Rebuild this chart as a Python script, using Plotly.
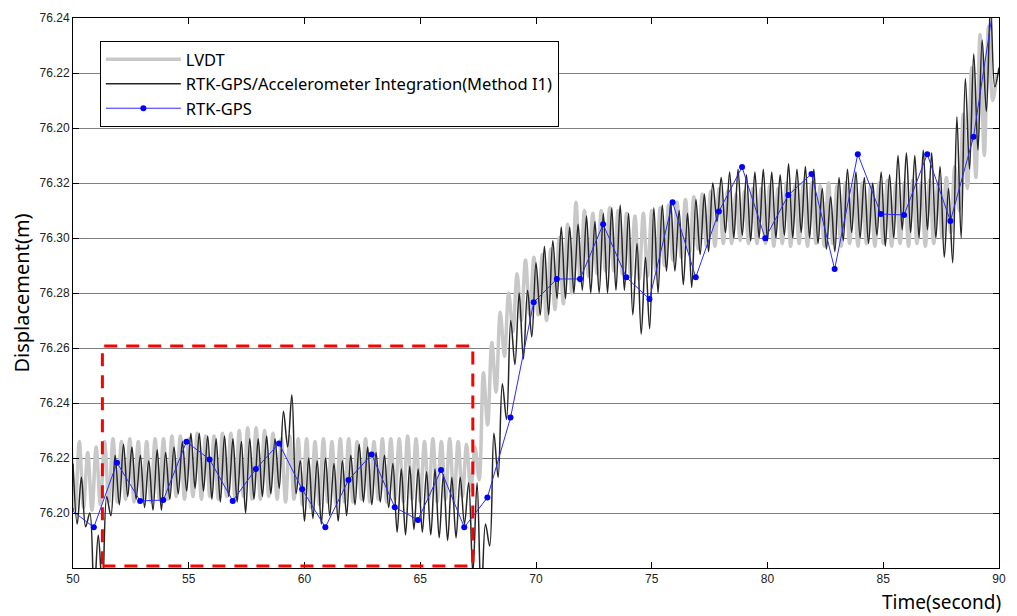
import plotly.graph_objects as go

# sampling step of the dense records (s)
STEP = 2 / 11
method_t0 = 50.0
lvdt_t0 = 49.91

# RTK-GPS/Accelerometer Integration (Method I1): alternating peaks/troughs, one row per 2 s
method_i1 = [
    76.218, 76.196, 76.213, 76.195, 76.200, 76.170, 76.192, 76.172, 76.206, 76.199, 76.221,
    76.203, 76.225, 76.206, 76.224, 76.205, 76.221, 76.202, 76.219, 76.201, 76.223, 76.201,
    76.222, 76.205, 76.224, 76.207, 76.226, 76.208, 76.229, 76.209, 76.229, 76.208, 76.228,
    76.205, 76.227, 76.204, 76.228, 76.206, 76.227, 76.204, 76.226, 76.200, 76.227, 76.205,
    76.227, 76.206, 76.228, 76.207, 76.227, 76.209, 76.237, 76.224, 76.243, 76.207, 76.219,
    76.197, 76.220, 76.198, 76.219, 76.196, 76.220, 76.199, 76.218, 76.197, 76.219, 76.199,
    76.221, 76.203, 76.225, 76.204, 76.224, 76.203, 76.222, 76.204, 76.221, 76.202, 76.218,
    76.193, 76.216, 76.192, 76.217, 76.194, 76.216, 76.193, 76.215, 76.192, 76.216, 76.191,
    76.214, 76.190, 76.213, 76.191, 76.213, 76.196, 76.211, 76.178, 76.211, 76.168, 76.196,
    76.188, 76.229, 76.213, 76.247, 76.234, 76.270, 76.254, 76.280, 76.256, 76.281, 76.264,
    76.291, 76.272, 76.297, 76.272, 76.299, 76.278, 76.304, 76.278, 76.304, 76.280, 76.305,
    76.281, 76.308, 76.280, 76.306, 76.280, 76.309, 76.280, 76.311, 76.281, 76.312, 76.281,
    76.309, 76.272, 76.298, 76.265, 76.293, 76.267, 76.311, 76.280, 76.312, 76.288, 76.313,
    76.288, 76.310, 76.283, 76.309, 76.282, 76.314, 76.294, 76.316, 76.295, 76.320, 76.306,
    76.322, 76.302, 76.324, 76.300, 76.325, 76.301, 76.323, 76.299, 76.324, 76.300, 76.325,
    76.299, 76.324, 76.300, 76.323, 76.301, 76.327, 76.300, 76.325, 76.302, 76.326, 76.300,
    76.325, 76.298, 76.318, 76.296, 76.315, 76.295, 76.322, 76.299, 76.325, 76.302, 76.324,
    76.300, 76.322, 76.298, 76.320, 76.301, 76.324, 76.297, 76.323, 76.300, 76.330, 76.303,
    76.331, 76.302, 76.330, 76.300, 76.332, 76.303, 76.331, 76.300, 76.326, 76.293, 76.318,
    76.291, 76.344, 76.300, 76.358, 76.325, 76.367, 76.332, 76.372, 76.346, 76.385, 76.355,
    76.362,
]

# LVDT reference record: alternating peaks/troughs, one row per 2 s
lvdt = [
    76.228, 76.201, 76.226, 76.202, 76.222, 76.201, 76.224, 76.203, 76.226, 76.204, 76.227,
    76.204, 76.226, 76.205, 76.227, 76.204, 76.226, 76.205, 76.226, 76.204, 76.227, 76.205,
    76.227, 76.205, 76.228, 76.206, 76.228, 76.205, 76.227, 76.206, 76.229, 76.205, 76.228,
    76.206, 76.228, 76.205, 76.229, 76.206, 76.229, 76.205, 76.230, 76.206, 76.231, 76.205,
    76.231, 76.205, 76.230, 76.206, 76.229, 76.205, 76.227, 76.204, 76.228, 76.205, 76.227,
    76.203, 76.227, 76.202, 76.226, 76.203, 76.227, 76.204, 76.226, 76.203, 76.227, 76.204,
    76.227, 76.204, 76.226, 76.205, 76.227, 76.204, 76.226, 76.205, 76.227, 76.204, 76.227,
    76.205, 76.227, 76.204, 76.228, 76.205, 76.227, 76.204, 76.226, 76.205, 76.227, 76.204,
    76.226, 76.205, 76.227, 76.204, 76.226, 76.206, 76.225, 76.208, 76.224, 76.212, 76.251,
    76.232, 76.262, 76.244, 76.273, 76.257, 76.280, 76.266, 76.287, 76.270, 76.292, 76.272,
    76.293, 76.272, 76.294, 76.270, 76.296, 76.274, 76.300, 76.276, 76.305, 76.280, 76.313,
    76.284, 76.310, 76.286, 76.309, 76.287, 76.310, 76.288, 76.311, 76.288, 76.310, 76.287,
    76.309, 76.286, 76.308, 76.285, 76.309, 76.286, 76.310, 76.288, 76.311, 76.290, 76.312,
    76.292, 76.313, 76.293, 76.314, 76.295, 76.315, 76.296, 76.316, 76.297, 76.317, 76.297,
    76.318, 76.298, 76.317, 76.298, 76.316, 76.299, 76.317, 76.298, 76.318, 76.298, 76.318,
    76.298, 76.319, 76.297, 76.318, 76.298, 76.320, 76.297, 76.319, 76.298, 76.320, 76.297,
    76.320, 76.298, 76.319, 76.297, 76.320, 76.298, 76.319, 76.297, 76.320, 76.298, 76.319,
    76.297, 76.320, 76.298, 76.319, 76.297, 76.320, 76.298, 76.321, 76.297, 76.320, 76.298,
    76.320, 76.297, 76.321, 76.298, 76.320, 76.297, 76.321, 76.298, 76.320, 76.300, 76.322,
    76.302, 76.326, 76.310, 76.345, 76.318, 76.362, 76.322, 76.374, 76.330, 76.377, 76.350,
    76.360,
]

# RTK-GPS 1 Hz solutions
gps_time = [49.9, 50.9, 51.9, 52.9, 53.9, 54.9, 55.9, 56.9, 57.9, 58.9,
            59.9, 60.9, 61.9, 62.9, 63.9, 64.9, 65.9, 66.9, 67.9, 68.9,
            69.9, 70.9, 71.9, 72.9, 73.9, 74.9, 75.9, 76.9, 77.9, 78.9,
            79.9, 80.9, 81.9, 82.9, 83.9, 84.9, 85.9, 86.9, 87.9, 88.9, 89.9]
gps_disp = [76.2013, 76.1948, 76.2183, 76.2044, 76.2047, 76.2259, 76.2195, 76.2044, 76.2160, 76.2253,
            76.2086, 76.1948, 76.2120, 76.2213, 76.2021, 76.1975, 76.2156, 76.1948, 76.2056, 76.2347,
            76.2766, 76.2851, 76.2851, 76.3050, 76.2857, 76.2778, 76.3130, 76.2857, 76.3096, 76.3258,
            76.2999, 76.3156, 76.3233, 76.2887, 76.3305, 76.3087, 76.3084, 76.3305, 76.3062, 76.3368, 76.3920]

# axis ticks (labels as printed on the original figure)
y_tickvals = [76.20, 76.22, 76.24, 76.26, 76.28, 76.30, 76.32, 76.34, 76.36, 76.38]
y_ticktext = ["76.20", "76.22", "76.24", "76.26", "76.28", "76.30", "76.32", "76.20", "76.22", "76.24"]
x_tickvals = [50, 55, 60, 65, 70, 75, 80, 85, 90]

# highlighted window (dashed box)
box_t = [51.27, 67.27]
box_v = [76.1807, 76.2607]

method_time = [method_t0 + k * STEP for k in range(len(method_i1))]
lvdt_time = [lvdt_t0 + k * STEP for k in range(len(lvdt))]

fig = go.Figure()
fig.add_trace(go.Scatter(
    x=lvdt_time, y=lvdt, mode="lines", name="LVDT",
    line=dict(color="#c8c8c8", width=3.5, shape="spline", smoothing=1.0)))
fig.add_trace(go.Scatter(
    x=method_time, y=method_i1, mode="lines",
    name="RTK-GPS/Accelerometer Integration(Method I1)",
    line=dict(color="#262626", width=1.5, shape="spline", smoothing=1.0)))
fig.add_trace(go.Scatter(
    x=gps_time, y=gps_disp, mode="lines+markers", name="RTK-GPS",
    line=dict(color="#2a2aff", width=1),
    marker=dict(color="#0000ff", size=6), cliponaxis=True))

fig.add_shape(type="rect", xref="x", yref="y",
              x0=box_t[0], x1=box_t[1], y0=box_v[0], y1=box_v[1],
              line=dict(color="#ff0000", width=3, dash="13px,9px"), layer="above")

tick_font = dict(family="Liberation Sans, Arial, sans-serif", size=12, color="#222222")

fig.update_layout(
    width=1017, height=616,
    margin=dict(l=73, r=11, t=18, b=48),
    paper_bgcolor="white", plot_bgcolor="white",
    showlegend=True,
    legend=dict(x=0.029, y=0.958, xanchor="left", yanchor="top",
                bgcolor="white", bordercolor="#000000", borderwidth=1,
                font=dict(family="Noto Sans, sans-serif", size=16.5, color="#000000"),
                itemwidth=75, tracegroupgap=0),
    xaxis=dict(range=[50, 90], tickvals=x_tickvals, ticktext=[str(v) for v in x_tickvals],
               showgrid=False, zeroline=False, showline=True, linecolor="#000000", linewidth=1,
               mirror="ticks", ticks="inside", ticklen=6, tickcolor="#000000",
               tickfont=tick_font),
    yaxis=dict(range=[76.18, 76.38], tickvals=y_tickvals, ticktext=y_ticktext,
               showgrid=True, gridcolor="#808080", gridwidth=1, zeroline=False,
               showline=True, linecolor="#000000", linewidth=1,
               mirror="ticks", ticks="inside", ticklen=6, tickcolor="#000000",
               tickfont=tick_font,
               title=dict(text="Displacement(m)", standoff=4,
                          font=dict(family="Noto Sans, sans-serif", size=20, color="#000000"))),
    annotations=[dict(text="Time(second)", xref="paper", yref="paper", x=1, y=0,
                      xanchor="right", yanchor="top", xshift=4, yshift=-19, showarrow=False,
                      font=dict(family="Noto Sans, sans-serif", size=19, color="#000000"))],
)

fig.write_html("out.html")
